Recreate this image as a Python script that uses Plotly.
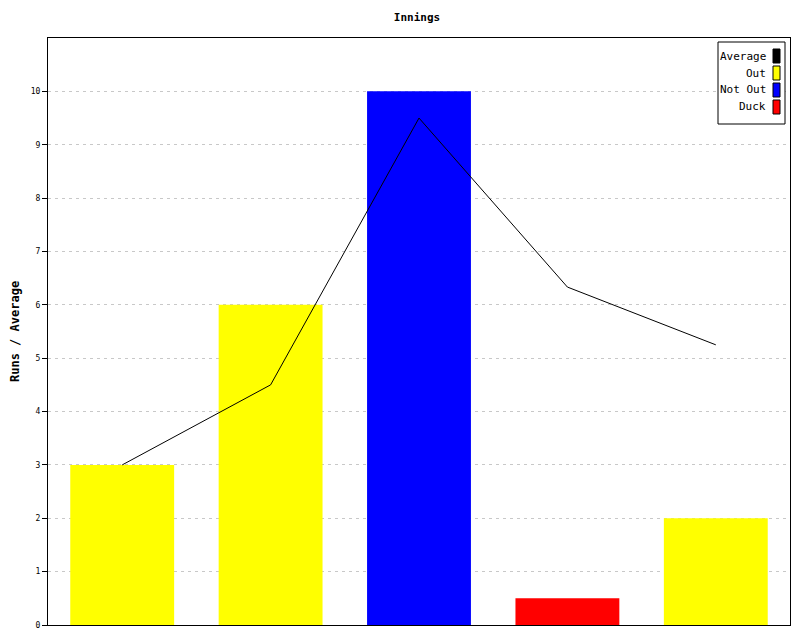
import plotly.graph_objects as go

# ---- data ----
innings = [1, 2, 3, 4, 5]
runs = [3, 6, 10, 0.5, 2]
status = ["Out", "Out", "Not Out", "Duck", "Out"]
average = [3, 4.5, 9.5, 6.333, 5.25]
y_ticks = [0, 1, 2, 3, 4, 5, 6, 7, 8, 9, 10]
legend_labels = ["Average", "Out", "Not Out", "Duck"]
legend_colors = ["#000000", "#ffff00", "#0000ff", "#ff0000"]

status_color = {"Out": "#ffff00", "Not Out": "#0000ff", "Duck": "#ff0000"}

W, H = 800, 640
OFF = 8  # page body margin
# desired plot area in page pixels
PL, PR, PT, PB = 48, 790, 38, 625
PW, PH = PR - PL, PB - PT

def px(x):
    return (x - PL) / PW

def py(y):
    return (PB - y) / PH

FONT = "DejaVu Sans Mono"

fig = go.Figure()
fig.add_trace(go.Bar(
    x=innings, y=runs,
    marker=dict(color=[status_color[s] for s in status], line=dict(width=0)),
    width=0.7, showlegend=False, hoverinfo="y"))
fig.add_trace(go.Scatter(
    x=innings, y=average, mode="lines",
    line=dict(color="#000000", width=1), showlegend=False))

# custom legend (text on left, swatch on right)
shapes = [dict(type="rect", xref="paper", yref="paper",
               x0=px(718), x1=px(785), y0=py(124), y1=py(42),
               line=dict(color="#000000", width=1), fillcolor="#ffffff", layer="above")]
annotations = []
for i, (lab, col) in enumerate(zip(legend_labels, legend_colors)):
    cy = 56 + 17 * i
    annotations.append(dict(xref="paper", yref="paper", x=px(768), y=py(cy),
                            text=lab, showarrow=False, xanchor="right", yanchor="middle",
                            font=dict(family=FONT, size=11, color="#000000")))
    shapes.append(dict(type="rect", xref="paper", yref="paper",
                       x0=px(773), x1=px(780), y0=py(cy + 7), y1=py(cy - 7),
                       line=dict(color="#000000", width=1), fillcolor=col, layer="above"))

# y-axis title
annotations.append(dict(xref="paper", yref="paper", x=px(15), y=py(332),
                        text="<b>Runs / Average</b>", textangle=-90, showarrow=False,
                        xanchor="center", yanchor="middle",
                        font=dict(family=FONT, size=12, color="#000000")))

fig.update_layout(
    width=W, height=H,
    margin=dict(l=PL - OFF, r=W + OFF - PR, t=PT - OFF, b=H + OFF - PB, pad=0),
    paper_bgcolor="#ffffff", plot_bgcolor="#ffffff",
    title=dict(text="<b>Innings</b>", x=(417 - OFF) / W, xanchor="center", y=1 - (17 - OFF) / H,
               yanchor="middle", font=dict(family=FONT, size=11, color="#000000")),
    font=dict(family=FONT, color="#000000"),
    xaxis=dict(range=[0.5, 5.5], showticklabels=False, ticks="", showgrid=False, automargin=False,
               showline=True, linecolor="#000000", linewidth=1, mirror=True, zeroline=False),
    yaxis=dict(range=[0, 11], tickvals=y_ticks, ticks="outside", ticklen=5, tickcolor="#000000",
               tickfont=dict(family=FONT, size=8, color="#000000"), automargin=False,
               showgrid=True, gridcolor="#c8c8c8", griddash="3px,4px", gridwidth=1,
               showline=True, linecolor="#000000", linewidth=1, mirror=True, zeroline=False),
    bargap=0.3,
    shapes=shapes, annotations=annotations,
)

fig.write_html("out.html")
